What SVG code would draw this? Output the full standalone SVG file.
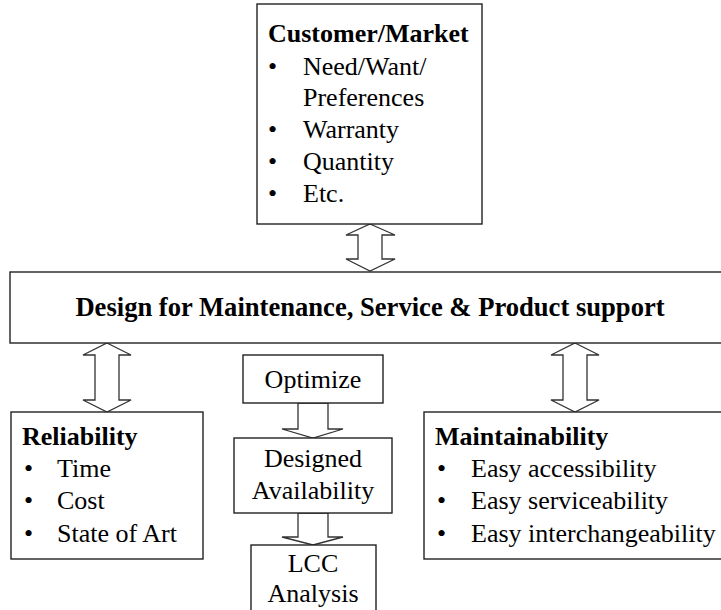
<svg xmlns="http://www.w3.org/2000/svg" width="721" height="610" viewBox="0 0 721 610">
<style>
.box{fill:#fff;stroke:#222;stroke-width:1.4}
.arr{fill:#fff;stroke:#333;stroke-width:1.3;stroke-linejoin:miter}
text{font-family:'Liberation Serif','Times New Roman',serif;font-size:26px;fill:#000}
.b{font-weight:bold}
.c{text-anchor:middle}
.big{font-size:26.6px}
</style>
<rect width="721" height="610" fill="#fff"/>
<g id="connectors">
<polygon class="arr" points="370,224 395,235 382,235 382,259 395,259 370,271 346,259 358,259 358,235 346,235"/>
<polygon class="arr" points="107,343 131,355 119,355 119,400 131,400 107,412 83,400 95,400 95,355 83,355"/>
<polygon class="arr" points="575,343 599,355 587,355 587,400 599,400 575,412 551,400 563,400 563,355 551,355"/>
<polygon class="arr" points="298,403 328,403 328,429 343,429 313,438 282,429 298,429"/>
<polygon class="arr" points="298,513 328,513 328,537 343,537 313,545 282,537 298,537"/>
</g>
<g id="customer">
<rect class="box" x="257" y="4" width="225" height="220"/>
<text class="b" x="268" y="42">Customer/Market</text>
<text x="268" y="75">•</text><text x="303" y="75">Need/Want/</text>
<text x="303" y="106">Preferences</text>
<text x="268" y="138">•</text><text x="303" y="138">Warranty</text>
<text x="268" y="170">•</text><text x="303" y="170">Quantity</text>
<text x="268" y="202">•</text><text x="303" y="202">Etc.</text>
</g>
<g id="design">
<rect class="box" x="10" y="272" width="730" height="71"/>
<text class="b c big" x="370" y="316">Design for Maintenance, Service &amp; Product support</text>
</g>
<g id="reliability">
<rect class="box" x="11" y="412" width="192" height="147"/>
<text class="b" x="22" y="445">Reliability</text>
<text x="24" y="477">•</text><text x="57" y="477">Time</text>
<text x="24" y="509">•</text><text x="57" y="509">Cost</text>
<text x="24" y="542">•</text><text x="57" y="542">State of Art</text>
</g>
<g id="optimize">
<rect class="box" x="243" y="355" width="140" height="48"/>
<text class="c" x="313" y="388">Optimize</text>
</g>
<g id="availability">
<rect class="box" x="234" y="438" width="158" height="75"/>
<text class="c" x="313" y="467">Designed</text>
<text class="c" x="313" y="499">Availability</text>
</g>
<g id="lcc">
<rect class="box" x="251" y="545" width="125" height="80"/>
<text class="c" x="313" y="572">LCC</text>
<text class="c" x="313" y="602">Analysis</text>
</g>
<g id="maintainability">
<rect class="box" x="424" y="412" width="320" height="147"/>
<text class="b" x="435" y="445">Maintainability</text>
<text x="437" y="477">•</text><text x="471" y="477">Easy accessibility</text>
<text x="437" y="509">•</text><text x="471" y="509">Easy serviceability</text>
<text x="437" y="542">•</text><text x="471" y="542">Easy interchangeability</text>
</g>
</svg>
